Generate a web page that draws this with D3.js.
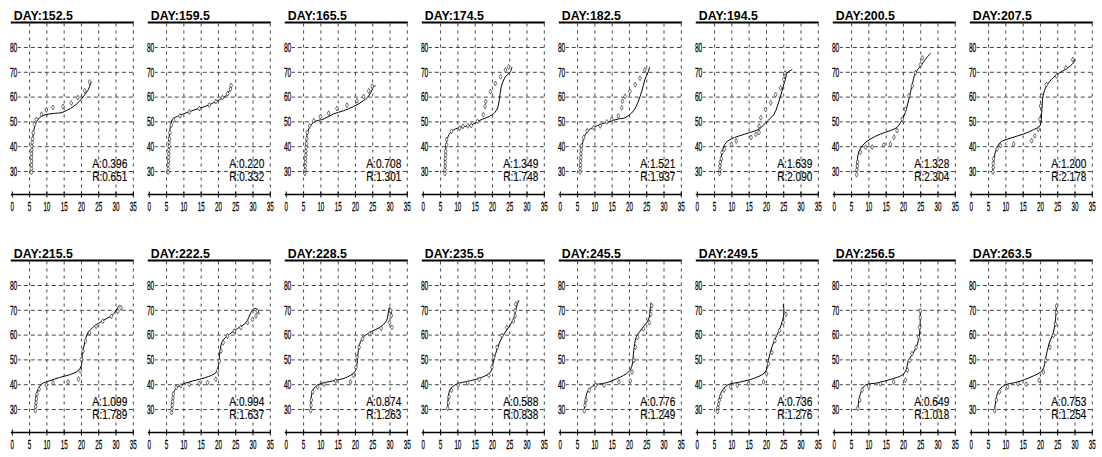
<!DOCTYPE html>
<html><head><meta charset="utf-8">
<script src="https://cdn.jsdelivr.net/npm/d3@7"></script>
<style>
html,body{margin:0;padding:0;background:#fff;}
svg{display:block;font-family:"Liberation Sans",Arial,sans-serif;}
</style></head>
<body>
<script>
// ---- data ----
const days = ["152.5","159.5","165.5","174.5","182.5","194.5","200.5","207.5",
              "215.5","222.5","228.5","235.5","245.5","249.5","256.5","263.5"];
const aValues = ["0.396","0.220","0.708","1.349","1.521","1.639","1.328","1.200",
                 "1.099","0.994","0.874","0.588","0.776","0.736","0.649","0.753"];
const rValues = ["0.651","0.332","1.301","1.748","1.937","2.090","2.304","2.178",
                 "1.789","1.637","1.263","0.838","1.249","1.276","1.018","1.254"];
const xTickValues = [0,5,10,15,20,25,30,35];
const xGridValues = [5,10,15,20,25,30,35];
const yTickValues = [30,40,50,60,70,80];

const obs152 = [[5.7,29.5],[5.7,31],[5.7,32.5],[5.7,34],[5.7,35.5],[5.7,37],[5.8,38.5],[5.8,40],[5.9,41.5],[6,43],[6.2,45.4],[6.6,48.8],[7.1,50.8],[8.6,52.9],[10,54.6],[11.9,55.6],[14.8,56],[17.2,57.4],[19.1,59.6],[21.1,62.3],[22.5,65.9]];
const mod152 = [[5.7,29.5],[5.8,36],[6,42],[6.3,46],[7,49.5],[8,51.5],[9.5,52.6],[12,53.2],[14.5,53.6],[17.7,55.9],[19.5,58],[20.6,59.9],[22,62.5],[23,66]];
const obs159 = [[5.6,29.5],[5.6,31],[5.6,32.5],[5.7,34],[5.7,35.5],[5.8,37],[5.8,38.5],[5.9,40],[5.9,41.5],[6,43],[6.1,45.5],[6.5,48.5],[7.2,50.5],[9,52.2],[11.7,53.8],[14.6,55.2],[17.5,56.6],[19.4,58],[21.3,59.6],[22.8,61.2],[23.6,63],[23.8,64.5]];
const mod159 = [[5.6,29.5],[5.7,37],[5.9,44],[6.2,47.5],[6.9,50.9],[8.8,52.3],[11.7,53.9],[14.6,55.3],[17.5,56.7],[19.4,58],[21.3,59.4],[22.8,61.1],[23.8,64.2]];
const obs165 = [[5.5,29],[5.6,30.5],[5.6,32],[5.7,33.5],[5.7,35],[5.8,36.5],[5.8,38],[5.9,39.5],[6,41],[6.1,43],[6.2,45.6],[6.9,48.2],[8.1,50.3],[10,51.9],[12.4,53.3],[14.8,55.2],[17.7,56.5],[20.6,58.3],[22.5,60],[24,62.3],[25,64.2]];
const mod165 = [[5.5,29],[5.7,37],[6,43],[6.5,46.5],[8.1,49.7],[11,51],[13.8,53],[16.7,54.3],[19.6,56],[22,57.9],[24,60.3],[25,62.9],[25.4,64.2],[26,64.2]];
const obs174 = [[6.4,29],[6.4,30.5],[6.5,32],[6.5,33.5],[6.5,35],[6.6,36.5],[6.6,38],[6.9,40.5],[6.9,42.7],[8.3,46],[10.7,47.3],[11.6,48],[13,48.2],[14,48.3],[15.8,50],[17.5,52.7],[18,56],[18.2,58],[19.6,62],[21,65.3],[22.5,68],[23.9,70.7],[24.8,72]];
const mod174 = [[6.4,29],[6.5,36],[6.9,42],[8,45.5],[10,47.3],[14,48.5],[16.3,50.3],[20.1,52.7],[21.5,55],[22.2,59.3],[22.7,64],[23.9,68],[25.3,70],[25.8,72]];
const obs182 = [[5.9,29.6],[5.9,31],[6,32.5],[6,34],[6.1,35.5],[6.1,37],[6.2,38.5],[6.3,40.2],[6.9,43.5],[7.9,46.2],[9.8,47.5],[11.7,48.2],[13.6,49.8],[15,50.9],[16.9,52.2],[17.9,55.5],[18.1,58.1],[18.9,60.1],[20.3,62.1],[21.8,64.8],[23.2,67.4],[24.6,70.7]];
const mod182 = [[5.9,29.6],[6.1,37],[6.9,43],[8,46],[10,47.8],[14,49.8],[17,51],[18.9,51.5],[21.3,54.2],[22.7,58.1],[23.7,62.1],[24.6,66.8],[25.6,70.1],[26,72]];
const obs194 = [[6.6,29],[6.7,30.5],[6.7,32],[6.8,33.5],[7.1,34.9],[7.3,37.5],[8,38.8],[10,40.8],[11.4,42.1],[15.7,43.5],[17.1,44.8],[18,45.5],[18,48.1],[18.5,51.5],[19.9,54.8],[21.4,57.5],[22.8,60.8],[24.2,63.5],[25.2,66.8],[25.5,68.5],[25.5,69.5]];
const mod194 = [[6.8,29],[7.3,37.5],[8.5,41.5],[10.9,43.5],[13.8,44.8],[16.6,46.1],[18,46.8],[19,48.1],[20.4,50.1],[22.3,52.8],[23.3,56.1],[24.2,60.1],[25,64.1],[25.7,67.5],[26.1,69.5],[27.6,70.9]];
const obs200 = [[6.6,28.5],[6.7,30.5],[6.8,32],[6.9,33.6],[7.7,37.6],[9.2,39.6],[11.1,39.6],[14.5,40.5],[16.4,40.9],[17.4,43.6],[18.3,46.3],[19.8,50.9],[20.7,54.9],[21.7,60.3],[22.7,64.3],[23.6,69.6],[25.1,72.9],[25.6,75.6]];
const mod200 = [[6.6,30.3],[7.2,37.6],[8.7,40.9],[10.6,42.9],[13.5,44.9],[16.4,46.3],[18.3,47.6],[19.3,49.6],[20.7,53.6],[21.7,58.9],[22.7,64.9],[23.6,69.6],[25.1,72.3],[26.5,75],[28,77.6]];
const obs207 = [[6.4,29.6],[6.5,31.5],[6.5,33],[6.6,34.9],[7.6,38.9],[8.6,40.2],[12.4,40.9],[17.6,42.2],[18.5,44.2],[19.5,46.8],[20,50.9],[20.2,56.2],[20.5,60.3],[21.9,64.9],[24.8,68.3],[27.5,71.6],[29.5,74.9]];
const mod207 = [[6.4,30.3],[7.1,37.6],[8.6,41.6],[11.4,43.2],[15.2,44.9],[18.5,46.9],[20,48.2],[20.5,53.6],[20.9,60.3],[21.9,64.3],[23.8,67.6],[25.7,69.6],[27.6,71.2],[29.7,73.6],[30,74.9]];
const obs215 = [[6.8,29.3],[6.9,31],[7,32.5],[7.1,34],[7.3,36],[7.9,38],[10,39.7],[11.9,40.6],[16.3,40.9],[19.3,42],[19.8,45.4],[20.1,50],[20.6,53.4],[21.3,57.4],[22.5,60.7],[24.4,63.4],[26.3,65.4],[28.8,67.4],[30.7,69.4],[31.6,70.8]];
const mod215 = [[6.8,30],[7.1,36],[8.6,40],[11,41.4],[13.8,42.7],[16.7,43.8],[19.1,45.4],[20.1,47.4],[20.4,52],[21.1,56.8],[22,60.7],[23.9,63.4],[26.3,65.6],[29.2,68],[30.7,71],[31.2,72]];
const obs222 = [[6.6,28.6],[6.7,30],[6.8,31.5],[6.9,33],[7,34.5],[7.1,36],[7.9,38.7],[9.3,39.3],[11.7,40],[14.6,40.3],[17,40.6],[19.4,42],[19.9,45.4],[20.4,49.3],[20.9,53.4],[21.5,56.7],[22.8,59.4],[24.7,61.4],[26.6,62.8],[28.6,64.8],[30,66.1],[31,67.5],[31.4,69.4]];
const mod222 = [[6.6,29.3],[7.4,37.4],[9.3,39.7],[12.7,41.3],[16.5,42.7],[19.4,44.7],[20.2,48],[20.6,53.4],[21.3,57.4],[23.3,60.1],[25.7,62.5],[28.1,64.8],[29.5,68.8],[30.5,70.5],[31.4,70.2],[31.9,68.2]];
const obs228 = [[7.2,29.3],[7.3,31.5],[7.4,33.6],[7.8,36.9],[9.2,38.9],[11.1,40],[14.4,41.3],[18.7,40.9],[19.6,43.6],[20.3,46.9],[20.6,50.9],[21.2,54.9],[22.2,58.3],[24.3,60.3],[27.6,62.6],[30,64.9],[30.7,62.9],[30.5,67.6],[30.3,69.6]];
const mod228 = [[7.2,30.3],[7.8,37.6],[9.7,40],[13.5,41.3],[17.3,42.6],[19.9,44.9],[20.6,48.2],[21,53.6],[22,58.3],[24.3,60.9],[27.2,62.9],[29.1,65.6],[30,70.9],[30.7,67.6]];
const obs235 = [[7.2,30.3],[7.4,32.5],[7.6,34.9],[8.3,37.6],[10.2,39.6],[13,40.5],[16.3,41.9],[19.1,43.6],[20,46.9],[20.5,50.9],[21.5,54.9],[22.9,59.6],[24.3,62.9],[26.2,65.5],[26.7,67.5],[26.7,69.6],[26.9,72.3]];
const mod235 = [[7.2,29.6],[7.8,37.6],[9.7,40],[13.5,41.3],[17.3,42.9],[19.6,44.9],[20.5,49.6],[21.5,54.2],[22.9,58.9],[24.8,62.9],[26.2,66.2],[27.2,71.6],[27.8,73.9]];
const obs245 = [[7.1,29.3],[7.3,31.5],[7.6,33.6],[8.5,37.6],[10.4,39.6],[12.8,39.6],[17.1,40.9],[20.4,41.3],[20.9,44.9],[21.4,49.6],[21.9,54.9],[22.5,58.9],[24.2,62.3],[25.9,64.9],[26.3,68.2],[26.6,71.6]];
const mod245 = [[7.1,29.9],[8,36.9],[10,39.6],[13.3,40.5],[16.6,42.3],[19.9,44.9],[20.9,47.6],[21.4,53.6],[22.1,58.9],[23.7,62.3],[25.7,66.2],[26.1,69.6],[26.3,72.9]];
const obs249 = [[6,29],[6.1,30.5],[6.3,32],[6.5,33.5],[6.9,35],[7.9,37.6],[9.8,38.9],[11.7,39.6],[15,40.3],[19.3,40.9],[20.2,44.2],[20.7,48.2],[21.7,52.8],[22.6,57.5],[23.9,61.6],[25,64.9],[25.8,68.2]];
const mod249 = [[6,29.6],[6.9,36.2],[8.8,39.6],[12.6,40.9],[16.4,42.3],[19.8,44.9],[20.7,49.6],[21.7,54.9],[23.1,59.6],[24.5,64.2],[25.2,68.9],[25,72.3]];
const obs256 = [[6.9,30.3],[7.5,33.6],[8.2,37.6],[10.1,39.2],[13.5,40.2],[17.3,40.9],[20.7,41.6],[21.3,45.6],[21.9,49.6],[22.6,52.3],[23.8,54.9],[24.5,58.9],[24.8,62.9],[25,66.9],[25,69.6]];
const mod256 = [[6.9,29.6],[7.7,36.2],[9.1,39.6],[12.5,40.5],[16.3,41.9],[19.7,43.6],[20.9,45.6],[21.6,49.6],[23.1,52.9],[24.2,56.2],[24.8,60.3],[25,65.6],[25,70.3]];
const obs263 = [[6.9,29.3],[7.4,33.6],[8.3,36.9],[10.7,38.9],[13.6,40.2],[16,40],[19.8,41.6],[21,44.9],[21.7,49.6],[22.9,54.9],[23.9,59.6],[24.5,64.2],[24.8,68.9],[24.8,71.6]];
const mod263 = [[6.9,29.9],[7.9,36.9],[9.8,39.6],[13.6,40.9],[17.4,42.9],[20.7,45.6],[21.7,50.9],[22.6,56.2],[23.9,60.9],[24.5,66.2],[24.8,72.3]];

const observed = [obs152,obs159,obs165,obs174,obs182,obs194,obs200,obs207,
                  obs215,obs222,obs228,obs235,obs245,obs249,obs256,obs263];
const modelled = [mod152,mod159,mod165,mod174,mod182,mod194,mod200,mod207,
                  mod215,mod222,mod228,mod235,mod245,mod249,mod256,mod263];

// ---- layout ----
const W = 1102, H = 457;
const COLS = 8, COL_STEP = 137.0, LEFT = 11.8, ROW_STEP = 238;
const PW = 121, TOP = 22.5, AXIS = 194.5;
const FONT = "Liberation Sans, Arial, sans-serif";

const svg = d3.select("body").append("svg").attr("width", W).attr("height", H);
const x = d3.scaleLinear().domain([0, 35]).range([0, PW]);
const y = d3.scaleLinear().domain([30, 80]).range([171, 47]);
const line = d3.line().x(d => x(d[0])).y(d => y(d[1])).curve(d3.curveCatmullRom.alpha(0.5));
const sym = d3.symbol().type(d3.symbolDiamond).size(7);

// horizontally compress a text around its anchor point (condensed look of the original)
function condense(sel, perChar) {
  sel.each(function() {
    const t = d3.select(this);
    let target = 0;
    for (const ch of t.text()) target += (ch === "." || ch === ":") ? perChar * 0.55 : perChar;
    const natural = this.getComputedTextLength();
    const sx = target / natural;
    const px = +t.attr("x") || 0;
    t.attr("x", 0).attr("transform", `translate(${px},0) scale(${sx},1)`);
  });
}
function inkText(sel, size, sw) {
  sel.attr("font-size", size).attr("fill", "#000").attr("font-family", FONT)
     .attr("stroke", "#000").attr("stroke-width", sw);
}

days.forEach((day, k) => {
  const col = k % COLS, row = Math.floor(k / COLS);
  const g = svg.append("g").attr("transform", `translate(${LEFT + col * COL_STEP},${row * ROW_STEP})`);

  // vertical dashed grid
  const gx = g.append("g").attr("transform", `translate(0,${AXIS})`)
    .call(d3.axisBottom(x).tickValues(xGridValues).tickSize(-(AXIS - TOP)).tickFormat(""));
  gx.select(".domain").remove();
  gx.selectAll("line").attr("stroke", "#444").attr("stroke-dasharray", "3,4").attr("stroke-width", 1);

  // horizontal dashed grid
  const gy = g.append("g").attr("transform", `translate(${x(35)},0)`)
    .call(d3.axisLeft(y).tickValues(yTickValues).tickSize(x(35) - 6).tickFormat(""));
  gy.select(".domain").remove();
  gy.selectAll("line").attr("stroke", "#444").attr("stroke-dasharray", "4,3").attr("stroke-width", 1);

  // y labels
  const yl = g.append("g").attr("transform", `translate(5.5,0)`)
    .call(d3.axisLeft(y).tickValues(yTickValues).tickSize(0).tickPadding(0));
  yl.select(".domain").remove();
  inkText(yl.selectAll("text"), 13.5, 0.3);
  condense(yl.selectAll("text"), 3.7);

  // x axis
  const xa = g.append("g").attr("transform", `translate(0,${AXIS})`)
    .call(d3.axisBottom(x).tickValues(xTickValues).tickSize(3).tickSizeOuter(0).tickPadding(3.5));
  xa.select(".domain").attr("stroke", "#000").attr("stroke-width", 1.4)
    .attr("d", `M-1,0H${PW + 1}`);
  xa.selectAll(".tick line").attr("y1", -3).attr("y2", 3).attr("stroke", "#000");
  inkText(xa.selectAll("text"), 13.5, 0.3);
  condense(xa.selectAll("text"), 3.5);

  // title + underline
  g.append("line").attr("x1", -1).attr("x2", PW + 1).attr("y1", TOP).attr("y2", TOP)
    .attr("stroke", "#000").attr("stroke-width", 2);
  g.append("text").attr("x", 2).attr("y", 19.5).attr("font-size", 12).attr("font-weight", "bold")
    .attr("font-family", FONT)
    .text("DAY:" + day).attr("textLength", 59).attr("lengthAdjust", "spacingAndGlyphs");

  // model line
  g.append("path").datum(modelled[k]).attr("d", line)
    .attr("fill", "none").attr("stroke", "#000").attr("stroke-width", 1);

  // observed markers
  g.append("g").selectAll("path").data(observed[k]).join("path")
    .attr("transform", d => `translate(${x(d[0])},${y(d[1])})`)
    .attr("d", sym).attr("fill", "#fff").attr("stroke", "#333").attr("stroke-width", 0.7);

  // annotations
  const ann = g.append("g");
  ann.append("g").attr("transform", "translate(80.5,167.5)").append("text").text("A:" + aValues[k]);
  ann.append("g").attr("transform", "translate(80.5,181)").append("text").text("R:" + rValues[k]);
  inkText(ann.selectAll("text"), 13, 0.15);
  ann.selectAll("text").each(function() {
    const n = this.getComputedTextLength();
    d3.select(this).attr("transform", `scale(${35 / n},1)`);
  });
});
</script>
</body></html>
